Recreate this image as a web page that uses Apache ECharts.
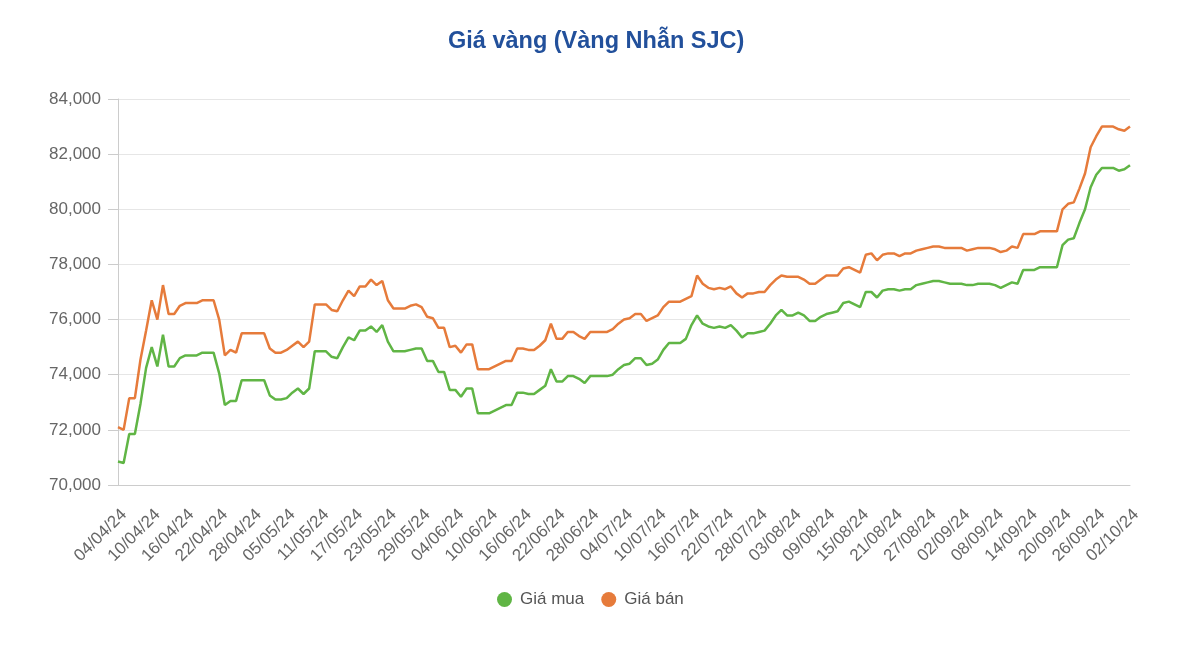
<!DOCTYPE html>
<html>
<head>
<meta charset="utf-8">
<title>Giá vàng</title>
<script src="https://cdn.jsdelivr.net/npm/echarts@6/dist/echarts.min.js"></script>
<style>
  html, body { margin: 0; padding: 0; background: #fff; }
  #chart { width: 1200px; height: 671px; }
</style>
</head>
<body>
<div id="chart"></div>
<script>
const dates = [
  '04/04/24','05/04/24','06/04/24','07/04/24','08/04/24','09/04/24','10/04/24','11/04/24','12/04/24','13/04/24',
  '14/04/24','15/04/24','16/04/24','17/04/24','18/04/24','19/04/24','20/04/24','21/04/24','22/04/24','23/04/24',
  '24/04/24','25/04/24','26/04/24','27/04/24','28/04/24','29/04/24','30/04/24',
  '02/05/24','03/05/24','04/05/24','05/05/24','06/05/24','07/05/24','08/05/24','09/05/24','10/05/24','11/05/24',
  '12/05/24','13/05/24','14/05/24','15/05/24','16/05/24','17/05/24','18/05/24','19/05/24','20/05/24','21/05/24',
  '22/05/24','23/05/24','24/05/24','25/05/24','26/05/24','27/05/24','28/05/24','29/05/24','30/05/24','31/05/24',
  '01/06/24','02/06/24','03/06/24','04/06/24','05/06/24','06/06/24','07/06/24','08/06/24','09/06/24','10/06/24',
  '11/06/24','12/06/24','13/06/24','14/06/24','15/06/24','16/06/24','17/06/24','18/06/24','19/06/24','20/06/24',
  '21/06/24','22/06/24','23/06/24','24/06/24','25/06/24','26/06/24','27/06/24','28/06/24','29/06/24','30/06/24',
  '01/07/24','02/07/24','03/07/24','04/07/24','05/07/24','06/07/24','07/07/24','08/07/24','09/07/24','10/07/24',
  '11/07/24','12/07/24','13/07/24','14/07/24','15/07/24','16/07/24','17/07/24','18/07/24','19/07/24','20/07/24',
  '21/07/24','22/07/24','23/07/24','24/07/24','25/07/24','26/07/24','27/07/24','28/07/24','29/07/24','30/07/24',
  '31/07/24','01/08/24','02/08/24','03/08/24','04/08/24','05/08/24','06/08/24','07/08/24','08/08/24','09/08/24',
  '10/08/24','11/08/24','12/08/24','13/08/24','14/08/24','15/08/24','16/08/24','17/08/24','18/08/24','19/08/24',
  '20/08/24','21/08/24','22/08/24','23/08/24','24/08/24','25/08/24','26/08/24','27/08/24','28/08/24','29/08/24',
  '30/08/24','31/08/24','01/09/24','02/09/24','03/09/24','04/09/24','05/09/24','06/09/24','07/09/24','08/09/24',
  '09/09/24','10/09/24','11/09/24','12/09/24','13/09/24','14/09/24','15/09/24','16/09/24','17/09/24','18/09/24',
  '19/09/24','20/09/24','21/09/24','22/09/24','23/09/24','24/09/24','25/09/24','26/09/24','27/09/24','28/09/24',
  '29/09/24','30/09/24','01/10/24','02/10/24'
];

// Giá mua
const buy = [
  70850,70800,71850,71850,72950,74250,75000,74300,75450,74300,
  74300,74600,74700,74700,74700,74800,74800,74800,74050,72900,
  73050,73050,73800,73800,73800,73800,73800,73250,73100,73100,
  73150,73350,73500,73300,73500,74850,74850,74850,74650,74600,
  75000,75350,75250,75600,75600,75750,75550,75800,75200,74850,
  74850,74850,74900,74950,74950,74500,74500,74100,74100,73450,
  73450,73200,73500,73500,72600,72600,72600,72700,72800,72900,
  72900,73350,73350,73300,73300,73450,73600,74200,73750,73750,
  73950,73950,73850,73700,73950,73950,73950,73950,74000,74200,
  74350,74400,74600,74600,74350,74400,74550,74900,75150,75150,
  75150,75300,75800,76150,75850,75750,75700,75750,75700,75800,
  75600,75350,75500,75500,75550,75600,75850,76150,76350,76150,
  76150,76250,76150,75950,75950,76100,76200,76250,76300,76600,
  76650,76550,76450,77000,77000,76800,77050,77100,77100,77050,
  77100,77100,77250,77300,77350,77400,77400,77350,77300,77300,
  77300,77250,77250,77300,77300,77300,77250,77150,77250,77350,
  77300,77800,77800,77800,77900,77900,77900,77900,78700,78900,
  78950,79500,80000,80800,81250,81500,81500,81500,81400,81450,
  81600
];

// Giá bán
const sell = [
  72100,72000,73150,73150,74550,75600,76700,76000,77250,76200,
  76200,76500,76600,76600,76600,76700,76700,76700,76000,74700,
  74900,74800,75500,75500,75500,75500,75500,74950,74800,74800,
  74900,75050,75200,75000,75200,76550,76550,76550,76350,76300,
  76700,77050,76850,77200,77200,77450,77250,77400,76700,76400,
  76400,76400,76500,76550,76450,76100,76050,75700,75700,75000,
  75050,74800,75100,75100,74200,74200,74200,74300,74400,74500,
  74500,74950,74950,74900,74900,75050,75250,75850,75300,75300,
  75550,75550,75400,75300,75550,75550,75550,75550,75650,75850,
  76000,76050,76200,76200,75950,76050,76150,76450,76650,76650,
  76650,76750,76850,77600,77300,77150,77100,77150,77100,77200,
  76950,76800,76950,76950,77000,77000,77250,77450,77600,77550,
  77550,77550,77450,77300,77300,77450,77600,77600,77600,77850,
  77900,77800,77700,78350,78400,78150,78350,78400,78400,78300,
  78400,78400,78500,78550,78600,78650,78650,78600,78600,78600,
  78600,78500,78550,78600,78600,78600,78550,78450,78500,78650,
  78600,79100,79100,79100,79200,79200,79200,79200,80000,80200,
  80250,80750,81300,82250,82650,83000,83000,83000,82900,82850,
  83000
];

const yMin = 70000;
const yMax = 84000;
const yStep = 2000;

var dom = document.querySelector('#chart');
var myChart = echarts.init(dom, null, { renderer: 'canvas' });

const option = {
  animation: false,
  backgroundColor: '#ffffff',
  textStyle: { fontFamily: 'Liberation Sans, Arial, sans-serif' },
  title: {
    text: 'Giá vàng (Vàng Nhẫn SJC)',
    left: 443,
    top: 25,
    textStyle: {
      color: '#22509b',
      fontSize: 23.5,
      fontWeight: 'bold',
      fontFamily: 'Liberation Sans, Arial, sans-serif'
    }
  },
  legend: {
    top: 586,
    left: 492,
    icon: 'circle',
    itemWidth: 15,
    itemHeight: 15,
    itemGap: 17,
    textStyle: { color: '#555', fontSize: 17, padding: [0, 0, 0, 3] },
    data: ['Giá mua', 'Giá bán']
  },
  grid: {
    left: 118,
    right: 70,
    top: 99,
    bottom: 186
  },
  xAxis: {
    type: 'category',
    data: dates,
    boundaryGap: false,
    axisLine: { lineStyle: { color: '#cccccc' } },
    axisTick: { show: false },
    axisLabel: {
      interval: 5,
      rotate: 45,
      color: '#666',
      fontSize: 17,
      verticalAlign: 'top',
      margin: 21
    }
  },
  yAxis: {
    type: 'value',
    min: yMin,
    max: yMax,
    interval: yStep,
    axisLine: { show: true, lineStyle: { color: '#cccccc' } },
    axisTick: { show: true, length: 10, lineStyle: { color: '#cccccc' } },
    splitLine: { lineStyle: { color: '#e6e6e6' } },
    axisLabel: {
      color: '#666',
      fontSize: 17,
      margin: 17,
      formatter: v => v.toLocaleString('en-US')
    }
  },
  series: [
    {
      name: 'Giá mua',
      type: 'line',
      data: buy,
      symbol: 'none',
      color: '#60b545',
      lineStyle: { width: 2.5 }
    },
    {
      name: 'Giá bán',
      type: 'line',
      data: sell,
      symbol: 'none',
      color: '#e67b3b',
      lineStyle: { width: 2.5 }
    }
  ]
};
myChart.setOption(option);
</script>
</body>
</html>
